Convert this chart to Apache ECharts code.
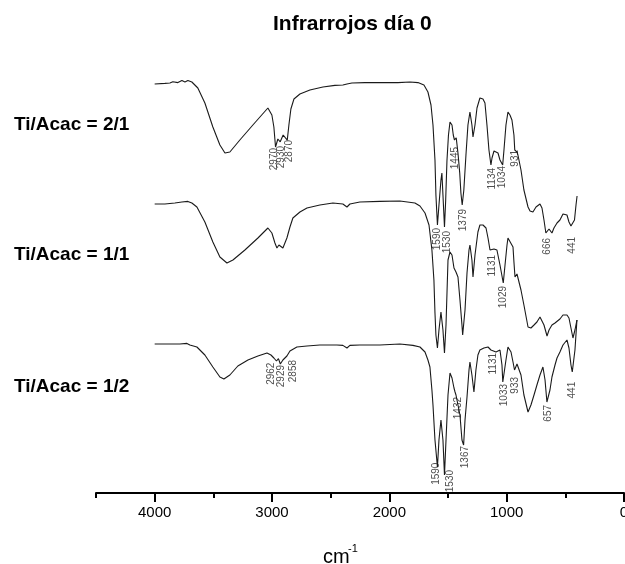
<!DOCTYPE html>
<html>
<head>
<meta charset="utf-8">
<title>Infrarrojos día 0</title>
<script src="https://cdn.jsdelivr.net/npm/echarts@6/dist/echarts.min.js"></script>
<style>
  html, body { margin: 0; padding: 0; background: #fff; }
  #mychart { width: 625px; height: 564px; }
</style>
</head>
<body>
<div id="mychart"></div>
<script>
// wavenumber (cm-1), relative transmittance (stacked, arbitrary units)
const trace21 = [[4000,102.25],[3913,102.4],[3870,102.5],[3845,102.8],[3802,102.6],[3768,103.1],[3742,102.75],[3717,103.1],[3683,102.75],[3632,101.25],[3572,97.5],[3504,91.5],[3444,87],[3401,85],[3359,85.25],[3274,88.25],[3163,92],[3035,96.25],[3001,94.5],[2984,91.5],[2970,86.5],[2950,88.5],[2930,87.8],[2905,89.5],[2870,88.2],[2856,92],[2839,96],[2813,98.5],[2762,99.75],[2677,100.75],[2566,101.5],[2464,101.9],[2396,102],[2361,102.25],[2344,101.9],[2319,102.5],[2208,102.6],[2097,102.6],[2080,102.25],[2055,102.6],[1969,102.6],[1952,102.25],[1927,102.6],[1824,102.75],[1756,102.6],[1705,102],[1671,100.25],[1645,97],[1628,92],[1611,83.25],[1603,74.5],[1590,67],[1577,72],[1560,78.25],[1552,80],[1543,74.5],[1530,66.5],[1520,73],[1509,83],[1496,89.5],[1483,92.75],[1466,92],[1455,89.5],[1445,88.25],[1430,88.8],[1415,85],[1400,80],[1390,75],[1379,72],[1365,75.75],[1347,84.5],[1330,92],[1313,95.25],[1296,92],[1287,89],[1270,92],[1253,96.25],[1228,98.75],[1202,98.5],[1185,97.5],[1168,92],[1151,85.75],[1134,82],[1125,83.75],[1108,85.5],[1091,85.75],[1074,85],[1057,83.25],[1034,82],[1023,85.75],[1006,92],[989,95.25],[972,94.5],[955,93.25],[938,89.5],[931,85.75],[912,85.25],[904,84.5],[878,80.75],[853,75.75],[818,71.5],[801,70.5],[776,70.25],[750,71.5],[716,72.25],[699,71.25],[682,68.25],[666,65],[639,66],[631,65.75],[614,65],[597,66.25],[571,67.5],[546,68.25],[520,69.75],[503,70.25],[486,69.5],[469,67.75],[452,66.75],[441,66.25],[422,68.25],[409,72],[400,74.25]]

const trace11 = [[4000,72.25],[3913,72.25],[3828,72.5],[3768,72.75],[3717,72.9],[3683,72.5],[3640,71.5],[3572,67.75],[3504,62.75],[3444,59],[3384,57.5],[3333,58.25],[3231,60.75],[3120,63.75],[3035,66.25],[3001,65],[2975,62.5],[2958,61.25],[2941,62],[2924,61.5],[2907,61.25],[2890,62.5],[2873,63.75],[2847,66.5],[2822,68.75],[2762,70.25],[2702,71.25],[2592,72],[2481,72.5],[2396,72.25],[2361,71.5],[2336,72.25],[2251,72.75],[2080,72.9],[1910,73],[1782,72.5],[1739,71.75],[1696,70],[1662,67],[1637,60.75],[1620,53.25],[1611,45],[1603,39.5],[1590,36.25],[1577,40.75],[1560,45.25],[1552,45.75],[1543,40.75],[1530,35],[1517,42],[1500,58.25],[1483,60.25],[1466,59.5],[1449,56.25],[1432,55.25],[1415,54],[1398,48.25],[1381,42],[1375,39.5],[1355,45.75],[1338,55],[1321,60.75],[1313,62],[1296,58.25],[1287,54],[1270,59.5],[1245,65.25],[1228,67],[1202,67],[1176,66.25],[1159,63.75],[1142,60.75],[1131,60.75],[1108,61],[1083,60.75],[1057,57],[1029,52.5],[1014,57],[997,62],[989,63.75],[972,63.25],[946,61.5],[938,57.75],[929,54],[912,54.75],[904,54.5],[878,50.75],[853,47],[818,41.5],[793,41.25],[767,42],[742,42.75],[716,44],[699,44.5],[682,42],[656,39.25],[639,40.75],[614,42],[588,42.5],[571,42.75],[546,43.5],[520,44.5],[503,45],[486,44.5],[469,43.75],[452,41.25],[435,38.75],[418,40.75],[401,43.25]]

const trace12 = [[4000,37.25],[3870,37.25],[3785,37.25],[3725,37.4],[3700,37],[3640,36.5],[3572,34.5],[3504,31.5],[3444,29],[3410,28.5],[3359,29.5],[3291,31.75],[3205,33.25],[3120,34.25],[3043,35],[3009,34.5],[2984,33.75],[2962,33],[2945,33.6],[2929,32.25],[2907,33.25],[2890,33.75],[2873,34.25],[2858,34.5],[2847,35.5],[2788,36.5],[2702,36.75],[2592,37],[2447,37],[2396,36.9],[2361,36.25],[2336,36.9],[2251,37],[2080,37],[1910,37.25],[1799,36.9],[1739,36.5],[1696,35.25],[1671,33.25],[1654,31.5],[1637,25.75],[1628,22],[1611,13.25],[1590,6.5],[1577,13.25],[1560,18.25],[1552,18.75],[1543,13.25],[1530,4.5],[1517,13.25],[1500,24.5],[1483,30],[1466,28.75],[1449,26.25],[1440,25.25],[1432,24.5],[1398,19.5],[1381,13.25],[1367,12],[1355,18.25],[1338,24],[1321,30.75],[1313,32.75],[1296,29.5],[1279,25.25],[1262,30.75],[1245,34.5],[1228,35.75],[1194,36.25],[1159,36.5],[1134,35.75],[1117,35.25],[1091,35.25],[1074,35.25],[1057,35.75],[1040,32],[1033,27.75],[1006,33.25],[989,36.5],[963,35.25],[946,32.75],[933,30.75],[912,32.25],[904,32.75],[878,29.5],[853,24.5],[818,20.25],[793,22],[767,24.5],[742,27],[716,29.5],[691,31.5],[673,28.25],[657,22.75],[631,25.75],[614,29],[588,32],[571,33.75],[546,35.25],[520,37],[486,38.25],[469,36.25],[452,32],[441,30.25],[418,35.75],[401,43.25]]

// peak labels: [position, top of text, label]
const peaks21 = [[2984,86.25,'2970'],[2920,86.75,'2930'],[2852,88.25,'2870'],[1588,66.25,'1590'],[1503,65.5,'1530'],[1441,86.5,'1445'],[1370,71,'1379'],[1119,81.25,'1134'],[1034,81.75,'1034'],[923,85.75,'931'],[650,63.75,'666'],[437,64,'441']]
const peaks11 = [[1119,59.5,'1131'],[1029,51.75,'1029']]
const peaks12 = [[3003,32.6,'2962'],[2918,32,'2929'],[2819,33.25,'2858'],[1603,7.6,'1590'],[1483,5.75,'1530'],[1413,24,'1432'],[1355,11.75,'1367'],[1114,35,'1131'],[1023,27.25,'1033'],[923,29,'933'],[645,22,'657'],[437,27.8,'441']]

const sampleNames = ['Ti/Acac = 2/1', 'Ti/Acac = 1/1', 'Ti/Acac = 1/2']
const majorTicks = [0, 1000, 2000, 3000, 4000]
const minorTicks = [500, 1500, 2500, 3500, 4500]

const FONT = '"Liberation Sans", Arial, sans-serif'

const mychart = echarts.init(document.getElementById('mychart'))

function lineSeries (data) {
  return {
    type: 'line',
    data: data,
    showSymbol: false,
    symbol: 'none',
    silent: true,
    lineStyle: { color: '#1a1a1a', width: 1.1 }
  }
}

function peakSeries (peaks) {
  return {
    type: 'scatter',
    data: peaks.map(p => ({ value: [p[0], p[1]], name: p[2] })),
    symbolSize: 0.1,
    itemStyle: { color: 'transparent' },
    silent: true,
    label: {
      show: true,
      position: 'inside',
      rotate: 90, // 文字竖排
      align: 'right',
      verticalAlign: 'middle',
      formatter: '{b}',
      fontSize: 10,
      fontFamily: FONT,
      color: '#222'
    }
  }
}

const labelY = [125, 255, 387]

mychart.setOption({
  animation: false,
  title: {
    text: 'Infrarrojos día 0',
    left: 273,
    top: 14,
    padding: 0,
    textStyle: { fontSize: 21, fontWeight: 'bold', color: '#000', fontFamily: FONT }
  },
  grid: {
    left: 96,
    right: 1,
    top: 53,
    bottom: 71,
    containLabel: false,
    outerBoundsMode: 'none' // 不自动收缩，让 0 刻度标签贴边
  },
  xAxis: [{
    type: 'value',
    min: 0,
    max: 4500,
    inverse: true,
    position: 'bottom',
    splitLine: { show: false },
    axisLine: { lineStyle: { color: '#000', width: 2 } },
    axisTick: { customValues: majorTicks, length: 9, lineStyle: { color: '#000', width: 2 } },
    axisLabel: {
      customValues: majorTicks,
      formatter: v => String(v),
      fontSize: 15,
      color: '#000',
      margin: 12,
      fontFamily: FONT
    }
  }, {
    type: 'value',
    min: 0,
    max: 4500,
    inverse: true,
    position: 'bottom',
    splitLine: { show: false },
    axisLine: { show: false },
    axisTick: { customValues: minorTicks, length: 5, lineStyle: { color: '#000', width: 2 } },
    axisLabel: { show: false }
  }],
  yAxis: { type: 'value', min: 0, max: 110, show: false },
  graphic: sampleNames.map((name, i) => ({
    type: 'text',
    x: 14,
    y: labelY[i],
    style: { text: name, fontSize: 19, fontWeight: 'bold', fontFamily: FONT, fill: '#000', verticalAlign: 'middle' }
  })).concat([
    { type: 'text', x: 323, y: 557, style: { text: 'cm', fontSize: 20, fontFamily: FONT, fill: '#000', verticalAlign: 'middle' } },
    { type: 'text', x: 348, y: 549, style: { text: '-1', fontSize: 11, fontFamily: FONT, fill: '#000', verticalAlign: 'middle' } }
  ]),
  series: [
    lineSeries(trace21),
    lineSeries(trace11),
    lineSeries(trace12),
    peakSeries(peaks21),
    peakSeries(peaks11),
    peakSeries(peaks12)
  ]
})

window.onresize = function () {
  mychart.resize()
}
</script>
</body>
</html>
